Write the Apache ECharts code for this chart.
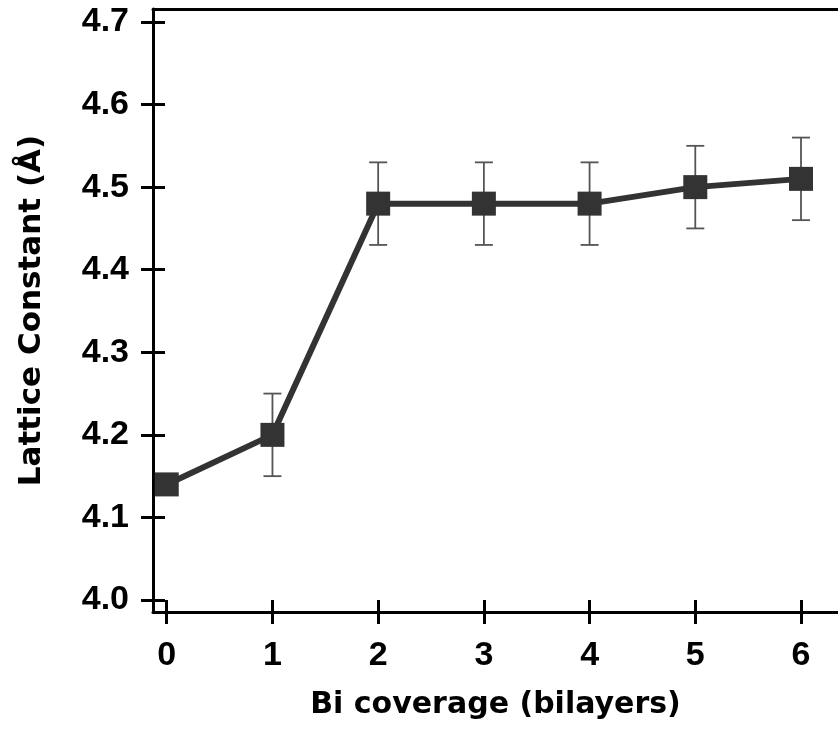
<!DOCTYPE html>
<html>
<head>
<meta charset="utf-8">
<script src="https://cdn.jsdelivr.net/npm/echarts@6/dist/echarts.min.js"></script>
<style>
  html, body { margin: 0; padding: 0; background: #fff; }
  #chart { width: 838px; height: 729px; }
</style>
</head>
<body>
<div id="chart"></div>
<script>
// data
var coverage = [0, 1, 2, 3, 4, 5, 6];
var latticeConst = [4.14, 4.20, 4.48, 4.48, 4.48, 4.50, 4.51];
var latticeErr = [0, 0.05, 0.05, 0.05, 0.05, 0.05, 0.05];
var xTicks = [0, 1, 2, 3, 4, 5, 6];
var yTicks = [4.0, 4.1, 4.2, 4.3, 4.4, 4.5, 4.6, 4.7];

(function(){
    var myChart = echarts.init(document.getElementById("chart"));
    var labelFont = 'Arial, "Liberation Sans", sans-serif';
    var nameFont = '"DejaVu Sans", sans-serif';

    var points = [];
    var errData = [];
    for (var i = 0; i < coverage.length; i++) {
        points.push([coverage[i], latticeConst[i]]);
        if (latticeErr[i] > 0) {
            errData.push([coverage[i], latticeConst[i] - latticeErr[i], latticeConst[i] + latticeErr[i]]);
        }
    }

    var gridBox = {left: 153, right: 0, top: 9, bottom: 117, containLabel: false};
    var blackLine = {color: '#000', width: 3};
    var tickLabelStyle = {fontSize: 34, fontWeight: 'bold', color: '#000', fontFamily: labelFont};

    // same ranges on every grid so the frame pieces line up
    function xAxisOf(gridIndex, extra){
        return echarts.util.merge({
            type: 'value', gridIndex: gridIndex, min: -0.13, max: 6.35,
            splitLine: {show: false},
            axisLine: {show: false, onZero: false, lineStyle: blackLine},
            axisTick: {show: false},
            axisLabel: {show: false}
        }, extra, true);
    }
    function yAxisOf(gridIndex, extra){
        return echarts.util.merge({
            type: 'value', gridIndex: gridIndex, min: 3.9855, max: 4.7157,
            splitLine: {show: false},
            axisLine: {show: false, onZero: false, lineStyle: blackLine},
            axisTick: {show: false},
            axisLabel: {show: false}
        }, extra, true);
    }

    var option = {
        animation: false,
        grid: [gridBox, gridBox, gridBox],
        xAxis: [
            xAxisOf(0, {
                position: 'bottom',
                name: 'Bi coverage (bilayers)',
                nameLocation: 'middle',
                nameGap: 78,
                nameTextStyle: {fontSize: 30, fontWeight: 'bold', color: '#000', fontFamily: nameFont},
                axisLine: {show: true},
                axisTick: {show: true, length: 12, customValues: xTicks, lineStyle: blackLine},
                axisLabel: echarts.util.extend({show: true, customValues: xTicks, margin: 27}, tickLabelStyle)
            }),
            // inner half of the crossing ticks
            xAxisOf(1, {
                position: 'bottom',
                axisTick: {show: true, inside: true, length: 12, customValues: xTicks, lineStyle: blackLine}
            }),
            // top frame line
            xAxisOf(2, {
                position: 'top',
                axisLine: {show: true}
            })
        ],
        yAxis: [
            yAxisOf(0, {
                position: 'left',
                name: 'Lattice Constant (Å)',
                nameLocation: 'middle',
                nameGap: 106,
                nameTextStyle: {fontSize: 31, fontWeight: 'bold', color: '#000', fontFamily: nameFont},
                axisLine: {show: true},
                axisTick: {show: true, length: 12, customValues: yTicks, lineStyle: blackLine},
                axisLabel: echarts.util.extend({
                    show: true, customValues: yTicks, margin: 24,
                    formatter: function(v){ return v.toFixed(1); }
                }, tickLabelStyle)
            }),
            yAxisOf(1, {
                position: 'left',
                axisTick: {show: true, inside: true, length: 12, customValues: yTicks, lineStyle: blackLine}
            }),
            yAxisOf(2, {position: 'left'})
        ],
        series: [
            {
                name: 'error',
                type: 'custom',
                xAxisIndex: 0,
                yAxisIndex: 0,
                z: 1,
                data: errData,
                renderItem: function(params, api){
                    var lo = api.coord([api.value(0), api.value(1)]);
                    var hi = api.coord([api.value(0), api.value(2)]);
                    var half = 9;
                    var style = {stroke: '#555', lineWidth: 1.8};
                    return {
                        type: 'group',
                        children: [
                            {type: 'line', shape: {x1: lo[0], y1: lo[1], x2: hi[0], y2: hi[1]}, style: style},
                            {type: 'line', shape: {x1: lo[0] - half, y1: lo[1], x2: lo[0] + half, y2: lo[1]}, style: style},
                            {type: 'line', shape: {x1: hi[0] - half, y1: hi[1], x2: hi[0] + half, y2: hi[1]}, style: style}
                        ]
                    };
                }
            },
            {
                name: 'lattice',
                type: 'line',
                xAxisIndex: 0,
                yAxisIndex: 0,
                z: 3,
                data: points,
                symbol: 'rect',
                symbolSize: 24,
                lineStyle: {color: '#333', width: 6},
                itemStyle: {color: '#333'}
            }
        ]
    };
    myChart.setOption(option);
})();
</script>
</body>
</html>
